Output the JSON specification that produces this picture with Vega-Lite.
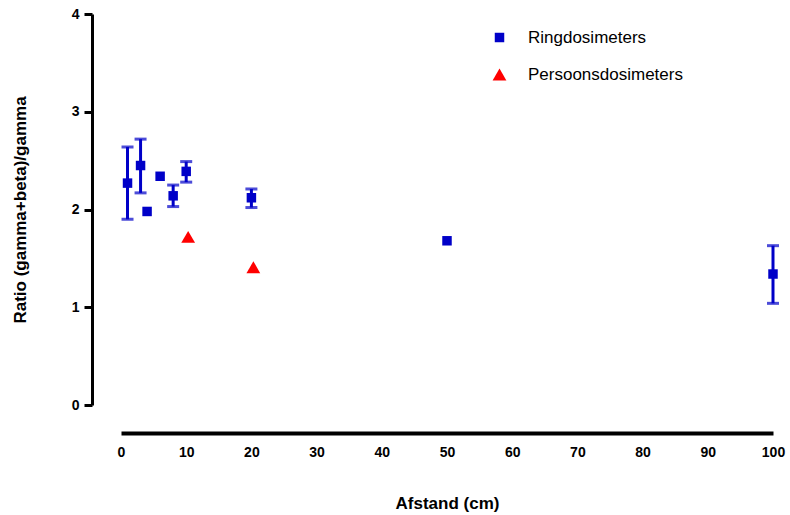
{
  "$schema": "https://vega.github.io/schema/vega-lite/v6.json",
  "autosize": "none",
  "width": 652,
  "height": 391,
  "padding": {"left": 121, "top": 14, "right": 17, "bottom": 110},
  "background": "white",
  "config": {
    "view": {"stroke": null},
    "font": "Liberation Sans",
    "axis": {
      "grid": false,
      "domainColor": "black",
      "tickColor": "black",
      "labelColor": "black",
      "titleColor": "black",
      "labelFont": "Liberation Sans",
      "titleFont": "Liberation Sans",
      "labelFontWeight": "bold",
      "titleFontWeight": "bold",
      "labelFontSize": 14,
      "titleFontSize": 17
    }
  },
  "data": {
    "values": [
      {"series": "Ringdosimeters", "x": 1, "y": 2.27, "lo": 1.90, "hi": 2.64},
      {"series": "Ringdosimeters", "x": 3, "y": 2.45, "lo": 2.17, "hi": 2.72},
      {"series": "Ringdosimeters", "x": 4, "y": 1.98, "lo": null, "hi": null},
      {"series": "Ringdosimeters", "x": 6, "y": 2.34, "lo": null, "hi": null},
      {"series": "Ringdosimeters", "x": 8, "y": 2.14, "lo": 2.03, "hi": 2.25},
      {"series": "Ringdosimeters", "x": 10, "y": 2.39, "lo": 2.28, "hi": 2.49},
      {"series": "Ringdosimeters", "x": 20, "y": 2.12, "lo": 2.02, "hi": 2.21},
      {"series": "Ringdosimeters", "x": 50, "y": 1.68, "lo": null, "hi": null},
      {"series": "Ringdosimeters", "x": 100, "y": 1.34, "lo": 1.04, "hi": 1.63},
      {"series": "Persoonsdosimeters", "x": 10.3, "y": 1.72, "lo": null, "hi": null},
      {"series": "Persoonsdosimeters", "x": 20.3, "y": 1.41, "lo": null, "hi": null}
    ]
  },
  "layer": [
    {
      "transform": [{"filter": "datum.lo != null"}],
      "mark": {"type": "rule", "color": "#0000C8", "strokeWidth": 3},
      "encoding": {
        "x": {"field": "x", "type": "quantitative"},
        "y": {"field": "lo", "type": "quantitative"},
        "y2": {"field": "hi"}
      }
    },
    {
      "transform": [{"filter": "datum.lo != null"}],
      "mark": {"type": "tick", "color": "#0000C8", "orient": "horizontal", "size": 12, "thickness": 3},
      "encoding": {
        "x": {"field": "x", "type": "quantitative"},
        "y": {"field": "lo", "type": "quantitative"}
      }
    },
    {
      "transform": [{"filter": "datum.lo != null"}],
      "mark": {"type": "tick", "color": "#0000C8", "orient": "horizontal", "size": 12, "thickness": 3},
      "encoding": {
        "x": {"field": "x", "type": "quantitative"},
        "y": {"field": "hi", "type": "quantitative"}
      }
    },
    {
      "mark": {"type": "point", "filled": true, "opacity": 1},
      "encoding": {
        "x": {
          "field": "x", "type": "quantitative",
          "scale": {"domain": [0, 100], "nice": false, "zero": true},
          "axis": {
            "title": "Afstand (cm)",
            "values": [0, 10, 20, 30, 40, 50, 60, 70, 80, 90, 100],
            "format": "d",
            "offset": 28,
            "domainWidth": 4,
            "ticks": false,
            "labelPadding": 12,
            "titlePadding": 36,
            "labelFlush": false
          }
        },
        "y": {
          "field": "y", "type": "quantitative",
          "scale": {"domain": [0, 4], "nice": false},
          "axis": {
            "title": "Ratio (gamma+beta)/gamma",
            "values": [0, 1, 2, 3, 4],
            "format": "d",
            "offset": 29,
            "domainWidth": 3,
            "tickWidth": 3,
            "tickSize": 8,
            "labelPadding": 5,
            "titlePadding": 42
          }
        },
        "color": {
          "field": "series", "type": "nominal",
          "scale": {"domain": ["Ringdosimeters", "Persoonsdosimeters"], "range": ["#0000C8", "#FF0000"]},
          "legend": {
            "title": null,
            "orient": "none",
            "legendX": 370,
            "legendY": 15,
            "labelFontSize": 17,
            "labelFont": "Liberation Sans",
            "labelColor": "black",
            "symbolSize": 100,
            "rowPadding": 19,
            "labelOffset": 20
          }
        },
        "shape": {
          "field": "series", "type": "nominal",
          "scale": {"domain": ["Ringdosimeters", "Persoonsdosimeters"], "range": ["square", "triangle-up"]},
          "legend": null
        },
        "size": {
          "field": "series", "type": "nominal",
          "scale": {"domain": ["Ringdosimeters", "Persoonsdosimeters"], "range": [90, 190]},
          "legend": null
        }
      }
    }
  ]
}
